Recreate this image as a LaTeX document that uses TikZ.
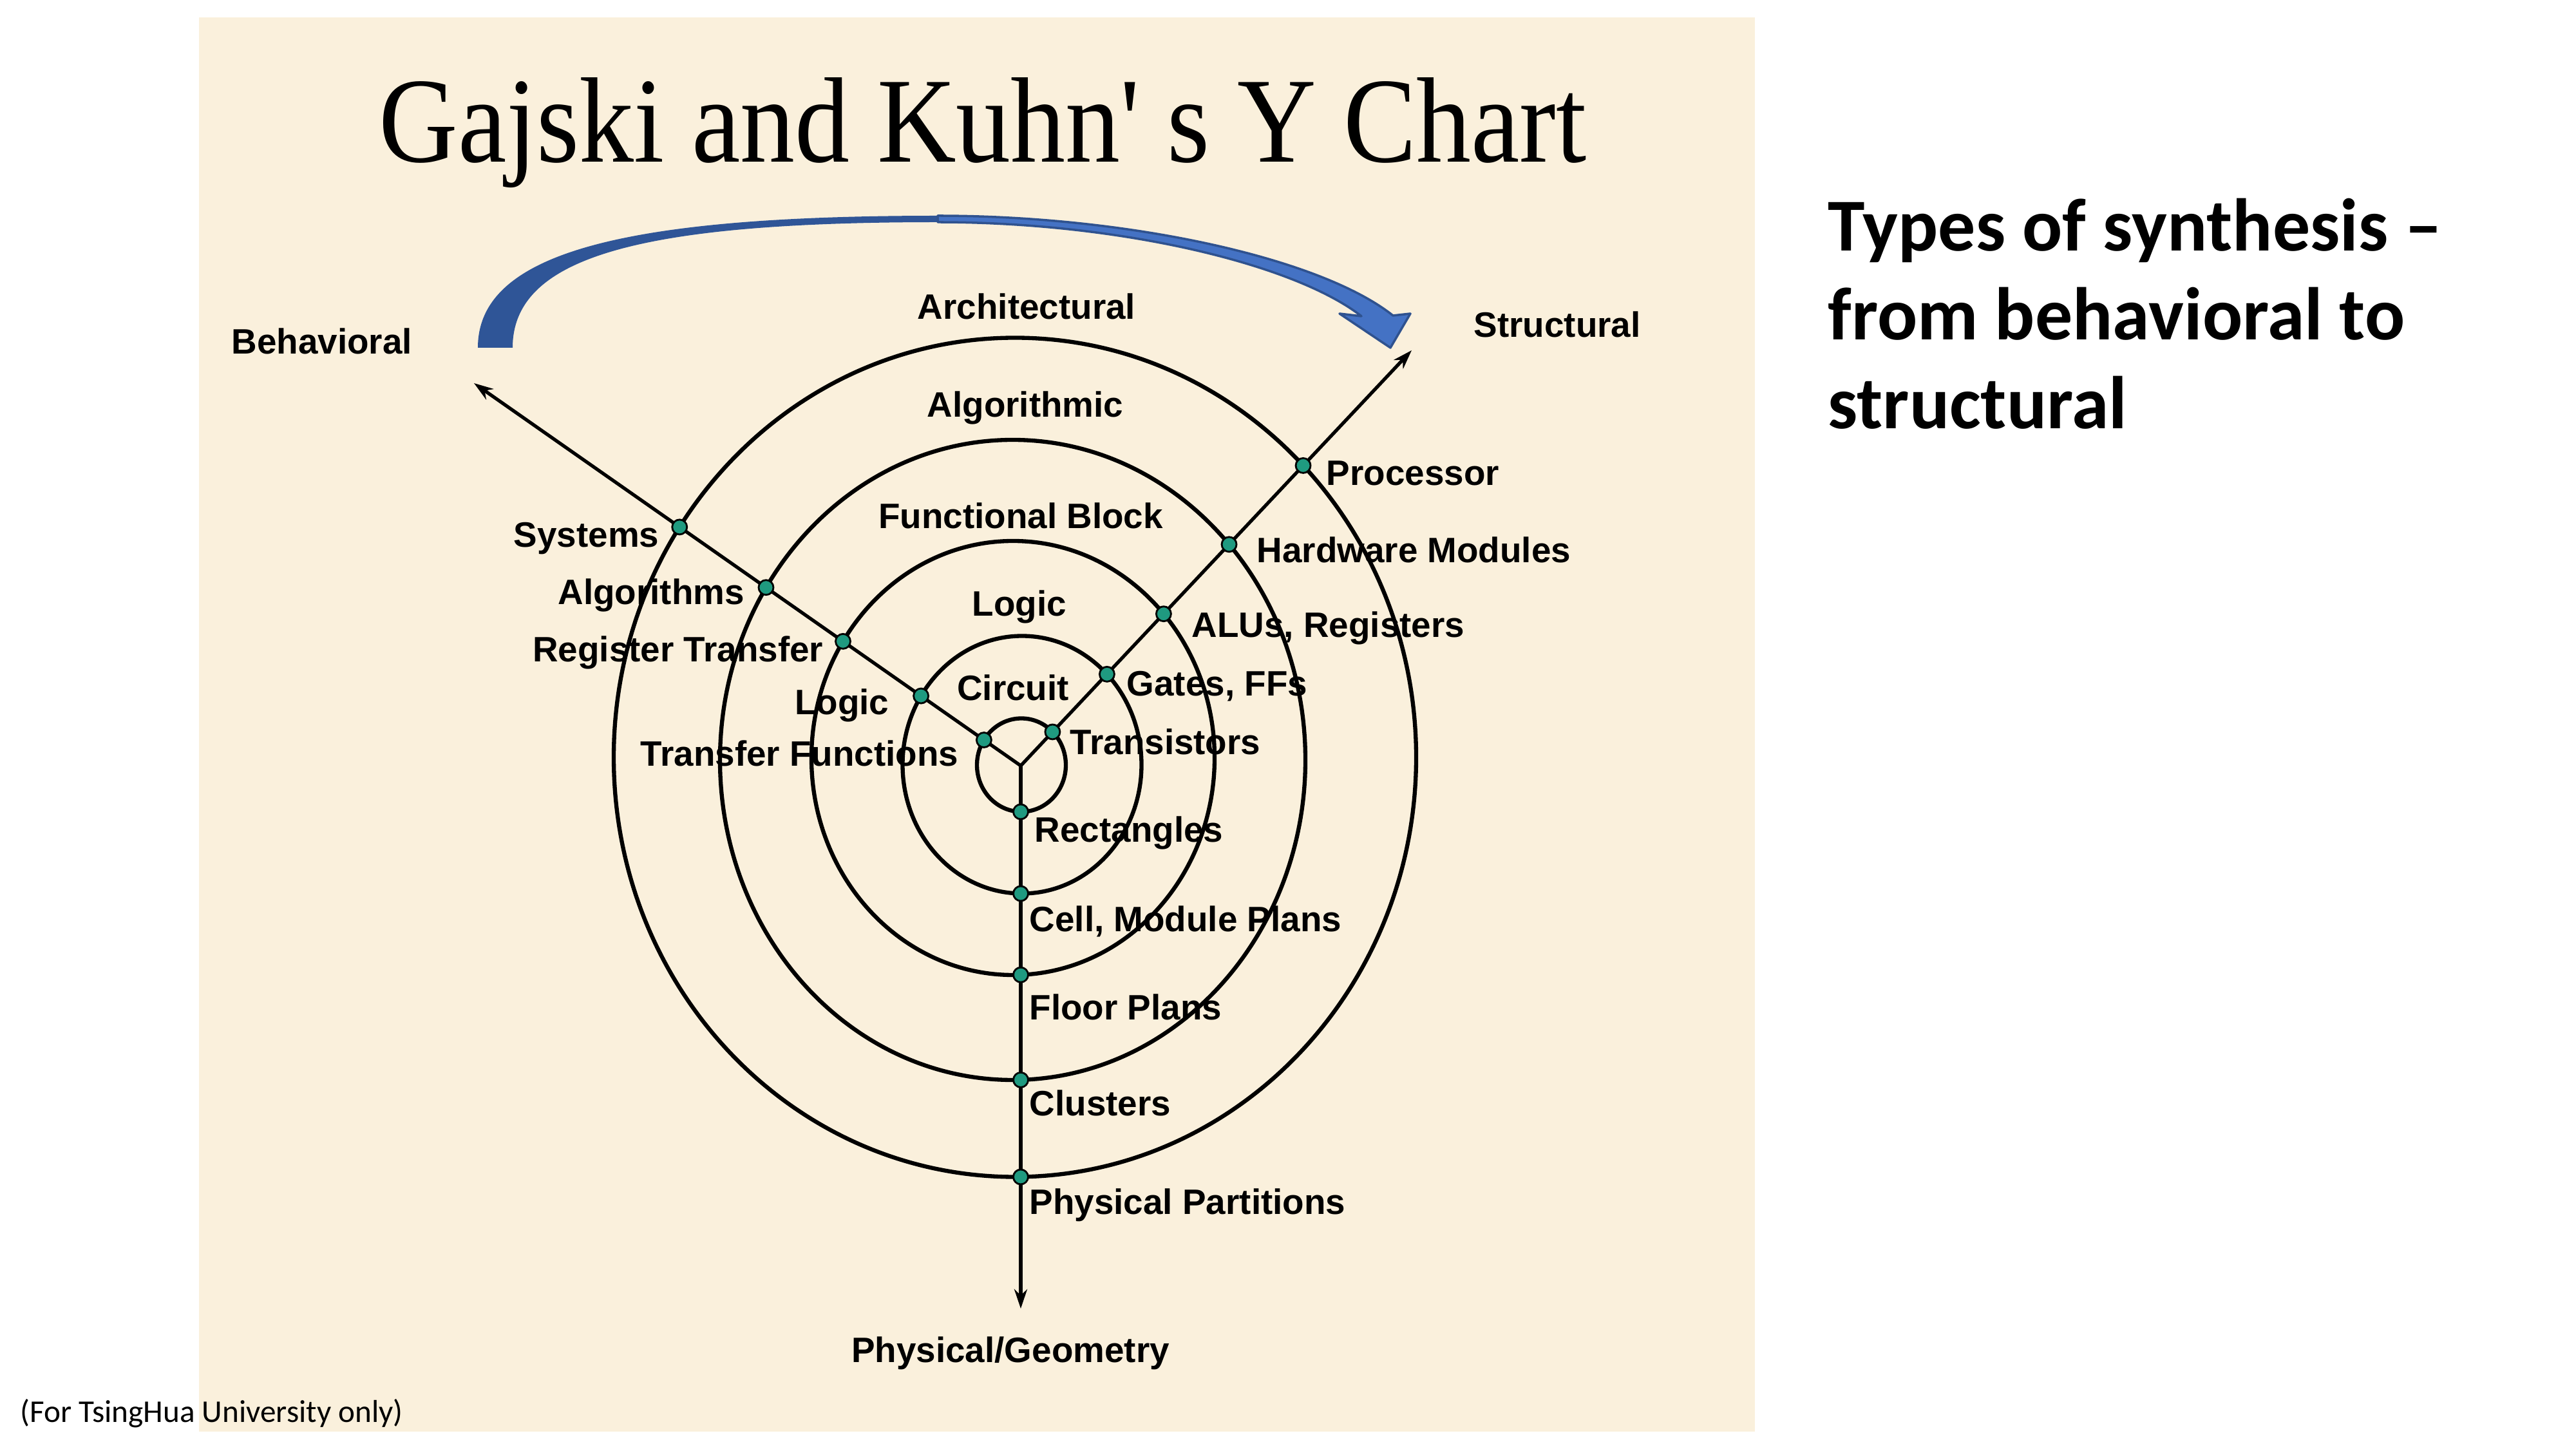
\documentclass[tikz,border=0pt]{standalone}
\usepackage{fontspec}
\setmainfont{Liberation Sans}
\newfontfamily\titlefont[FakeStretch=0.9]{Liberation Serif}
\newfontfamily\notefont{Carlito}
\usepackage{xcolor}
\definecolor{chartPaper}{HTML}{FAF0DC}
\definecolor{chartTeal}{HTML}{1F9A80}
\definecolor{arcDark}{HTML}{2F5597}
\definecolor{arcLight}{HTML}{4472C4}
\definecolor{arcEdge}{HTML}{2F528F}
\usetikzlibrary{arrows.meta, calc, intersections}

\tikzset{
  ring/.style={line width=1.8pt},
  spoke/.style={line width=1.5pt, -{Stealth[length=0.3cm, width=0.2cm]}},
  dotmark/.style={circle, draw=black, fill=chartTeal, line width=0.8pt, inner sep=0pt, minimum size=0.23cm},
  lbl/.style={inner sep=0pt, font=\bfseries\fontsize{15.6}{18}\selectfont},
}

\begin{document}
\begin{tikzpicture}
  \useasboundingbox (0,0) rectangle (40,-22.5);
  \fill[white] (0,0) rectangle (40,-22.5);
  \fill[chartPaper] (3.09,-0.27) rectangle (27.25,-22.23);

  \node[anchor=base, inner sep=0pt, font=\titlefont\fontsize{53.7}{60}\selectfont] (title) at (15.26,-2.52) {Gajski and Kuhn' s Y Chart};

  % synthesis arrow, behavioral -> structural
  \fill[arcDark] (7.42,-5.40) .. controls (7.42,-3.96) and (9.56,-3.35) .. (14.56,-3.35)
    -- (14.56,-3.45) .. controls (9.9,-3.45) and (7.96,-4.0) .. (7.96,-5.40) -- cycle;
  \filldraw[fill=arcLight, draw=arcEdge, line width=1pt, line join=round]
    (14.56,-3.35) .. controls (17.5,-3.35) and (20.5,-4.0) .. (21.63,-4.90)
    -- (21.90,-4.87) -- (21.59,-5.40) -- (20.80,-4.87) -- (21.14,-4.91)
    .. controls (20.1,-4.1) and (17.4,-3.45) .. (14.56,-3.45) -- cycle;

  % rings
  \draw[ring, name path=r1] (15.86,-11.88) ellipse [x radius=0.69, y radius=0.725];
  \draw[ring, name path=r2] (15.87,-11.875) ellipse [x radius=1.855, y radius=2.0];
  \draw[ring, name path=r3] (15.73,-11.77) ellipse [x radius=3.13, y radius=3.37];
  \draw[ring, name path=r4] (15.725,-11.80) ellipse [x radius=4.545, y radius=4.97];
  \draw[ring, name path=r5] (15.76,-11.76) ellipse [x radius=6.23, y radius=6.515];

  % the three axes
  \coordinate (C) at (15.85,-11.89);
  \coordinate (beh) at (7.36,-5.95);
  \coordinate (str) at (21.92,-5.44);
  \coordinate (geo) at (15.85,-20.32);
  \draw[spoke, name path=sbeh] (C) -- (beh);
  \draw[spoke, name path=sstr] (C) -- (str);
  \draw[spoke, name path=sgeo] (C) -- (geo);

  % dots where the axes cross the rings
  \foreach \rn/\lname/\uname/\dname in {r1/tfdot/trdot/recdot, r2/lgdot/gfdot/celdot,
      r3/rtdot/aludot/fpdot, r4/algdot/hwdot/cldot, r5/sysdot/prdot/ppdot}{
    \path[name intersections={of=sbeh and \rn, by=hit}] (hit) node[dotmark] (\lname) {};
    \path[name intersections={of=sstr and \rn, by=hit}] (hit) node[dotmark] (\uname) {};
    \path[name intersections={of=sgeo and \rn, by=hit}] (hit) node[dotmark] (\dname) {};
  }

  % axis names
  \node[lbl, anchor=base west] (tbeh) at (3.59,-5.50) {Behavioral};
  \node[lbl, anchor=base west] (tstr) at (22.88,-5.235) {Structural};
  \node[lbl, anchor=base] (tgeo) at (15.69,-21.15) {Physical/Geometry};

  % ring names
  \node[lbl, anchor=base] (tarch) at (15.94,-4.96) {Architectural};
  \node[lbl, anchor=base] (talgo) at (15.92,-6.48) {Algorithmic};
  \node[lbl, anchor=base] (tfblk) at (15.85,-8.21) {Functional Block};
  \node[lbl, anchor=base] (tlogc) at (15.83,-9.57) {Logic};
  \node[lbl, anchor=base] (tcirc) at (15.73,-10.88) {Circuit};

  % behavioral side
  \node[lbl, anchor=base east] (tsys) at (10.24,-8.50) {Systems};
  \node[lbl, anchor=base east] (talg) at (11.565,-9.39) {Algorithms};
  \node[lbl, anchor=base east] (trt) at (12.79,-10.28) {Register Transfer};
  \node[lbl, anchor=base east] (tlg) at (13.81,-11.10) {Logic};
  \node[lbl, anchor=base east] (ttf) at (14.89,-11.895) {Transfer Functions};

  % structural side
  \node[lbl, anchor=base west] (tpr) at (20.59,-7.54) {Processor};
  \node[lbl, anchor=base west] (thw) at (19.51,-8.74) {Hardware Modules};
  \node[lbl, anchor=base west] (talu) at (18.50,-9.90) {ALUs, Registers};
  \node[lbl, anchor=base west] (tgf) at (17.49,-10.81) {Gates, FFs};
  \node[lbl, anchor=base west] (ttr) at (16.61,-11.72) {Transistors};

  % physical side
  \node[lbl, anchor=base west] (trec) at (16.06,-13.08) {Rectangles};
  \node[lbl, anchor=base west] (tcel) at (15.98,-14.47) {Cell, Module Plans};
  \node[lbl, anchor=base west] (tfp) at (15.98,-15.84) {Floor Plans};
  \node[lbl, anchor=base west] (tcl) at (15.98,-17.32) {Clusters};
  \node[lbl, anchor=base west] (tpp) at (15.98,-18.85) {Physical Partitions};

  % slide text (base anchor sits on the last line)
  \node[anchor=base west, inner sep=0pt, align=left, font=\notefont\bfseries\fontsize{33}{39.3}\selectfont] (synth) at (28.38,-6.66) {Types of synthesis –\\from behavioral to\\structural};
  \node[anchor=base west, inner sep=0pt, font=\notefont\fontsize{14}{16}\selectfont] (note) at (0.31,-22.08) {(For TsingHua University only)};
\end{tikzpicture}
\end{document}
